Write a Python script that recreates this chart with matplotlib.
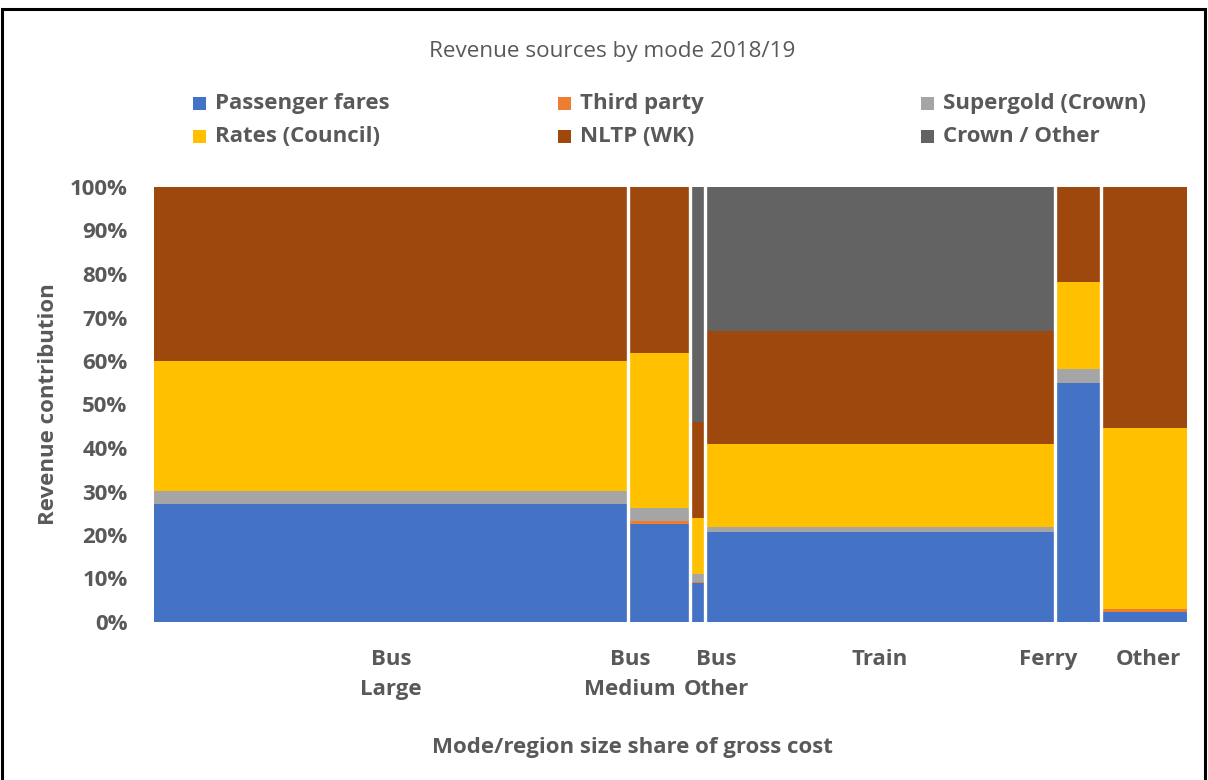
import matplotlib
matplotlib.use("Agg")
import matplotlib.pyplot as plt
from matplotlib.patches import Rectangle
import numpy as np

# Categories and their share of gross cost (%) -> bar widths
categories = ["Bus\nLarge", "Bus\nMedium", "Bus\nOther", "Train", "Ferry", "Other"]
cost_share = [45.9, 6.0, 1.4, 33.9, 4.45, 8.35]

# Revenue contribution (%) by source, per category
passenger_fares = [27.1, 22.5, 8.9, 20.6, 54.9, 2.4]
third_party     = [0.0, 0.8, 0.3, 0.0, 0.0, 0.6]
supergold_crown = [3.0, 3.0, 1.8, 1.2, 3.2, 0.0]
rates_council   = [29.9, 35.6, 12.9, 19.2, 20.0, 41.5]
nltp_wk         = [40.0, 38.1, 22.1, 25.9, 21.9, 55.5]
crown_other     = [0.0, 0.0, 54.0, 33.1, 0.0, 0.0]

series_names = ["Passenger fares", "Third party", "Supergold (Crown)",
                "Rates (Council)", "NLTP (WK)", "Crown / Other"]
series_values = [passenger_fares, third_party, supergold_crown,
                 rates_council, nltp_wk, crown_other]
series_colors = ["#4472C4", "#ED7D31", "#A5A5A5", "#FFC000", "#9E480E", "#636363"]

# Horizontal nudges for category labels in the crowded narrow bars
label_nudge = [0.0, -2.8, 1.8, 0.0, -2.9, 0.4]

FONT = "Open Sans"
TXT = "#595959"
FS = 16

fig = plt.figure(figsize=(12.08, 7.8), dpi=100)
ax = fig.add_axes([154 / 1208, 1 - 622 / 780, (1187 - 154) / 1208, (622 - 187) / 780])

widths = np.array(cost_share, dtype=float)
lefts = np.concatenate([[0.0], np.cumsum(widths)[:-1]])
bottom = np.zeros(len(categories))
for name, vals, col in zip(series_names, series_values, series_colors):
    vals = np.array(vals, dtype=float)
    ax.bar(lefts, vals, width=widths, bottom=bottom, align="edge",
           color=col, linewidth=0, label=name)
    bottom += vals

# white separators between the variable-width columns
for x in np.cumsum(widths)[:-1]:
    ax.axvline(x, color="white", lw=2.4, zorder=5)

total = widths.sum()
ax.set_xlim(0, total)
ax.set_ylim(0, 100)
ax.set_yticks(np.arange(0, 101, 10))
ax.set_yticklabels([f"{v}%" for v in range(0, 101, 10)],
                   fontname=FONT, fontweight="bold", fontsize=FS, color=TXT)
ax.tick_params(axis="y", length=0, pad=19)
ax.set_xticks([])
for s in ax.spines.values():
    s.set_visible(False)

# category labels below the bars
centers = lefts + widths / 2
for c, lab, dx in zip(centers, categories, label_nudge):
    ax.text(c + dx, -6.3, lab, ha="center", va="top", fontname=FONT,
            fontweight="bold", fontsize=FS, color=TXT, linespacing=1.55)

ax.set_ylabel("Revenue contribution", fontname=FONT, fontweight="bold",
              fontsize=FS, color=TXT, labelpad=8)
fig.text(632 / 1208, 1 - 747 / 780, "Mode/region size share of gross cost",
         ha="center", va="center", fontname=FONT, fontweight="bold",
         fontsize=FS, color=TXT)

fig.text(612 / 1208, 1 - 52 / 780, "Revenue sources by mode 2018/19",
         ha="center", va="center", fontname=FONT, fontsize=16.2, color=TXT)

# legend laid out in three columns, two rows
legend_cols = [193, 558, 921]
legend_rows = [104, 137]
order = [0, 3, 1, 4, 2, 5]
for k, idx in enumerate(order):
    col, row = divmod(k, 2)
    x0 = legend_cols[col]
    y0 = legend_rows[row]
    fig.add_artist(Rectangle((x0 / 1208, 1 - (y0 + 6) / 780),
                             13 / 1208, 13 / 780, transform=fig.transFigure,
                             facecolor=series_colors[idx], edgecolor="none"))
    fig.text((x0 + 22) / 1208, 1 - y0 / 780, series_names[idx], ha="left",
             va="center", fontname=FONT, fontweight="bold", fontsize=FS, color=TXT)

# outer frame
fig.add_artist(Rectangle((2 / 1208, -0.02), 1203 / 1208, 1.02 - 9 / 780,
                         transform=fig.transFigure, facecolor="none",
                         edgecolor="black", linewidth=2.2))

fig.savefig("out.png", dpi=100)
